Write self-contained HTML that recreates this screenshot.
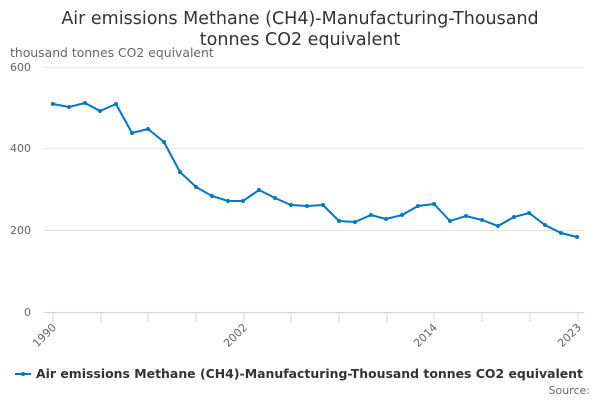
<!DOCTYPE html>
<html><head><meta charset="utf-8"><style>body{margin:0;background:#fff}svg{display:block}text{font-family:"DejaVu Sans",sans-serif}</style></head><body>
<svg width="600" height="400" xmlns="http://www.w3.org/2000/svg">
<text x="300" y="24" text-anchor="middle" font-size="17.5" fill="#333">Air emissions Methane (CH4)-Manufacturing-Thousand</text>
<text x="300" y="45" text-anchor="middle" font-size="17.5" fill="#333">tonnes CO2 equivalent</text>
<text x="10" y="57" font-size="12.4" fill="#666">thousand tonnes CO2 equivalent</text>
<g stroke="#e6e6e6" stroke-width="1">
<line x1="44" x2="584" y1="67.5" y2="67.5"/><line x1="44" x2="584" y1="148.5" y2="148.5"/><line x1="44" x2="584" y1="230.5" y2="230.5"/>
</g>
<line x1="44" x2="584" y1="312.5" y2="312.5" stroke="#ccd6eb"/>
<g stroke="#ccd6eb">
<line x1="53" x2="53" y1="312" y2="322"/><line x1="101" x2="101" y1="312" y2="322"/><line x1="148" x2="148" y1="312" y2="322"/><line x1="196" x2="196" y1="312" y2="322"/><line x1="244" x2="244" y1="312" y2="322"/><line x1="291" x2="291" y1="312" y2="322"/><line x1="339" x2="339" y1="312" y2="322"/><line x1="387" x2="387" y1="312" y2="322"/><line x1="434" x2="434" y1="312" y2="322"/><line x1="482" x2="482" y1="312" y2="322"/><line x1="530" x2="530" y1="312" y2="322"/><line x1="578" x2="578" y1="312" y2="322"/>
</g>
<g font-size="11" fill="#666" text-anchor="end">
<text x="31" y="71">600</text><text x="31" y="152">400</text><text x="31" y="234">200</text><text x="31" y="316">0</text>
<text transform="translate(57,328) rotate(-45)">1990</text>
<text transform="translate(248,328) rotate(-45)">2002</text>
<text transform="translate(438,328) rotate(-45)">2014</text>
<text transform="translate(582,328) rotate(-45)">2023</text>
</g>
<polyline fill="none" stroke="#0077c0" stroke-width="2" points="53,104 69,107 85,103 100,111 116,104 132,133 148,129 164,142 180,172 196,187 212,196 228,201 243,201 259,190 275,198 291,205 307,206 323,205 339,221 355,222 371,215 386,219 402,215 418,206 434,204 450,221 466,216 482,220 498,226 514,217 529,213 545,225 561,233 577,237"/>
<g fill="#0077c0">
<circle cx="53" cy="104" r="2"/><circle cx="69" cy="107" r="2"/><circle cx="85" cy="103" r="2"/><circle cx="100" cy="111" r="2"/><circle cx="116" cy="104" r="2"/><circle cx="132" cy="133" r="2"/><circle cx="148" cy="129" r="2"/><circle cx="164" cy="142" r="2"/><circle cx="180" cy="172" r="2"/><circle cx="196" cy="187" r="2"/><circle cx="212" cy="196" r="2"/><circle cx="228" cy="201" r="2"/><circle cx="243" cy="201" r="2"/><circle cx="259" cy="190" r="2"/><circle cx="275" cy="198" r="2"/><circle cx="291" cy="205" r="2"/><circle cx="307" cy="206" r="2"/><circle cx="323" cy="205" r="2"/><circle cx="339" cy="221" r="2"/><circle cx="355" cy="222" r="2"/><circle cx="371" cy="215" r="2"/><circle cx="386" cy="219" r="2"/><circle cx="402" cy="215" r="2"/><circle cx="418" cy="206" r="2"/><circle cx="434" cy="204" r="2"/><circle cx="450" cy="221" r="2"/><circle cx="466" cy="216" r="2"/><circle cx="482" cy="220" r="2"/><circle cx="498" cy="226" r="2"/><circle cx="514" cy="217" r="2"/><circle cx="529" cy="213" r="2"/><circle cx="545" cy="225" r="2"/><circle cx="561" cy="233" r="2"/><circle cx="577" cy="237" r="2"/>
</g>
<line x1="15" x2="31" y1="374" y2="374" stroke="#0077c0" stroke-width="2"/><circle cx="23" cy="374" r="2" fill="#0077c0"/>
<text x="36" y="378" font-size="12" font-weight="bold" fill="#333" textLength="547" lengthAdjust="spacingAndGlyphs">Air emissions Methane (CH4)-Manufacturing-Thousand tonnes CO2 equivalent</text>
<text x="590" y="394" text-anchor="end" font-size="11" fill="#666">Source:</text>
</svg>
</body></html>
